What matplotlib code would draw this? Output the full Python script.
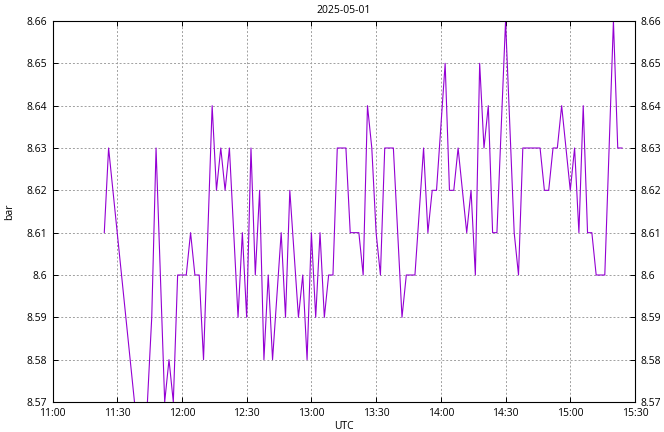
import matplotlib
matplotlib.use("Agg")
import matplotlib.pyplot as plt
import matplotlib.dates as mdates
import pandas as pd

# pressure readings on 2025-05-01 (UTC), sampled every 2 min
times = ["11:24", "11:26", "11:42", "11:46", "11:48", "11:52", "11:54", "11:56",
         "11:58", "12:02", "12:04", "12:06", "12:08", "12:10", "12:14", "12:16",
         "12:18", "12:20", "12:22", "12:26", "12:28", "12:30", "12:32", "12:34",
         "12:36", "12:38", "12:40", "12:42", "12:46", "12:48", "12:50", "12:54",
         "12:56", "12:58", "13:00", "13:02", "13:04", "13:06", "13:08", "13:10",
         "13:12", "13:16", "13:18", "13:22", "13:24", "13:26", "13:28", "13:30",
         "13:32", "13:34", "13:38", "13:42", "13:44", "13:48", "13:52", "13:54",
         "13:56", "13:58", "14:02", "14:04", "14:06", "14:08", "14:12", "14:14",
         "14:16", "14:18", "14:20", "14:22", "14:24", "14:26", "14:30", "14:34",
         "14:36", "14:38", "14:46", "14:48", "14:50", "14:52", "14:54", "14:56",
         "15:00", "15:02", "15:04", "15:06", "15:08", "15:10", "15:12", "15:16",
         "15:20", "15:22", "15:24"]
pressure = [8.61, 8.63, 8.55, 8.59, 8.63, 8.57, 8.58, 8.57,
            8.60, 8.60, 8.61, 8.60, 8.60, 8.58, 8.64, 8.62,
            8.63, 8.62, 8.63, 8.59, 8.61, 8.59, 8.63, 8.60,
            8.62, 8.58, 8.60, 8.58, 8.61, 8.59, 8.62, 8.59,
            8.60, 8.58, 8.61, 8.59, 8.61, 8.59, 8.60, 8.60,
            8.63, 8.63, 8.61, 8.61, 8.60, 8.64, 8.63, 8.61,
            8.60, 8.63, 8.63, 8.59, 8.60, 8.60, 8.63, 8.61,
            8.62, 8.62, 8.65, 8.62, 8.62, 8.63, 8.61, 8.62,
            8.60, 8.65, 8.63, 8.64, 8.61, 8.61, 8.66, 8.61,
            8.60, 8.63, 8.63, 8.62, 8.62, 8.63, 8.63, 8.64,
            8.62, 8.63, 8.61, 8.64, 8.61, 8.61, 8.60, 8.60,
            8.66, 8.63, 8.63]

day = "2025-05-01"
yticks = [8.57, 8.58, 8.59, 8.60, 8.61, 8.62, 8.63, 8.64, 8.65, 8.66]
ytick_labels = ["8.57", "8.58", "8.59", "8.6", "8.61", "8.62", "8.63", "8.64", "8.65", "8.66"]

plt.rcParams['font.family'] = ['Open Sans', 'DejaVu Sans']
plt.rcParams['font.size'] = 7.5

t = pd.to_datetime([day + " " + s for s in times])

fig = plt.figure(figsize=(6.64, 4.32), dpi=100)
ax = fig.add_axes([52.5 / 664, 1 - 402 / 432, (635 - 52.5) / 664, (402 - 21) / 432])

ax.plot(t, pressure, color="#9400d3", lw=0.8)

ax.set_xlim(pd.Timestamp(day + " 11:00"), pd.Timestamp(day + " 15:30"))
ax.set_ylim(8.57, 8.66)
ax.xaxis.set_major_locator(mdates.MinuteLocator(byminute=[0, 30]))
ax.xaxis.set_major_formatter(mdates.DateFormatter("%H:%M"))
ax.set_yticks(yticks)
ax.set_yticklabels(ytick_labels)

ax.grid(True, color="#a0a0a0", linestyle=(0, (2, 2)), lw=0.7)
ax.tick_params(direction="in", length=3.5, width=0.7, top=True, right=True,
               labelright=True, pad=4, colors="black")
for s in ax.spines.values():
    s.set_linewidth(0.8)

ax.set_title(day, fontsize=7.5, pad=6)
ax.set_xlabel("UTC", labelpad=1.5)
ax.set_ylabel("bar", labelpad=8)

fig.savefig("out.png", dpi=100)
